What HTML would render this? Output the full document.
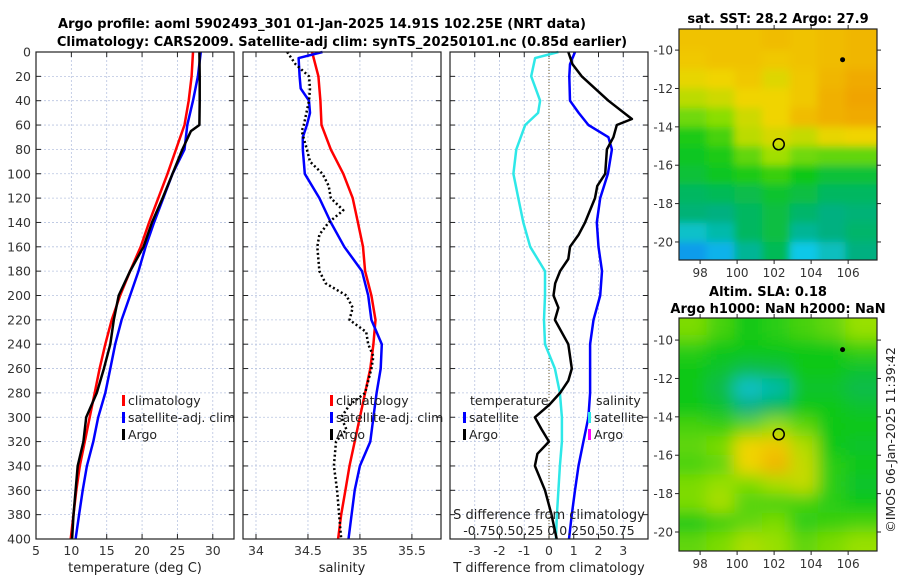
<!DOCTYPE html>
<html><head><meta charset="utf-8"><style>
html,body{margin:0;padding:0;background:#fff;}
svg{display:block;font-family:"DejaVu Sans","Liberation Sans",sans-serif;}
</style></head><body>
<svg id="chart" width="900" height="580" viewBox="0 0 900 580">
<defs>
<filter id="blur1" x="-10%" y="-10%" width="120%" height="120%"><feGaussianBlur stdDeviation="4"/></filter>
<filter id="blur2" x="-10%" y="-10%" width="120%" height="120%"><feGaussianBlur stdDeviation="8"/></filter>
<clipPath id="clipTop"><rect x="679" y="29" width="198" height="231"/></clipPath>
<clipPath id="clipBot"><rect x="679" y="318" width="198" height="233"/></clipPath>
</defs>
<text x="322" y="28" text-anchor="middle" font-size="13" font-weight="bold">Argo profile: aoml 5902493_301 01-Jan-2025 14.91S 102.25E (NRT data)</text>
<text x="342" y="46" text-anchor="middle" font-size="13" font-weight="bold">Climatology: CARS2009. Satellite-adj clim: synTS_20250101.nc (0.85d earlier)</text>
<g id="panels"></g>
<g id="maps"></g>
<text x="778" y="23" text-anchor="middle" font-size="13" font-weight="bold">sat. SST: 28.2 Argo: 27.9</text>
<text x="768" y="296" text-anchor="middle" font-size="13" font-weight="bold">Altim. SLA: 0.18</text>
<text x="778" y="313" text-anchor="middle" font-size="13" font-weight="bold">Argo h1000: NaN h2000: NaN</text>
<text transform="translate(895,440) rotate(-90)" text-anchor="middle" font-size="12.5" fill="#222">©IMOS 06-Jan-2025 11:39:42</text>
</svg>
<script>
// ---- data ----
const depths = [0,20,40,60,80,100,120,140,160,180,200,220,240,260,280,300,320,340,360,380,400];
const tempClim = [27.2,27.0,26.6,26.0,24.8,23.6,22.3,21.0,19.8,18.3,16.9,15.7,14.8,14.0,13.3,12.6,11.9,11.2,10.7,10.3,9.9];
const tempSat = [28.3,27.9,27.2,26.4,26.0,24.3,23.0,21.7,20.5,19.5,18.3,17.1,16.2,15.5,14.8,13.8,13.1,12.2,11.6,11.1,10.6];
const argoDepthsT = [0,20,40,60,65,80,100,120,140,160,180,200,220,240,260,280,300,320,340,360,380,400];
const tempArgo = [28.1,28.15,28.15,28.1,26.9,25.7,24.3,22.9,21.4,20.2,18.3,16.7,16.0,15.5,14.6,13.6,12.1,11.7,10.9,10.6,10.3,10.1];
const salClim = [34.54,34.60,34.62,34.63,34.72,34.84,34.93,34.98,35.03,35.05,35.11,35.15,35.13,35.10,35.05,35.00,34.95,34.90,34.86,34.82,34.79];
const satSDepths = [0,5,20,30,40,50,60,70,80,100,120,140,160,180,200,220,240,260,280,300,320,340,360,380,400];
const salSat = [34.64,34.41,34.42,34.43,34.51,34.52,34.49,34.45,34.45,34.47,34.61,34.72,34.85,35.02,35.08,35.11,35.21,35.20,35.16,35.13,35.10,35.00,34.95,34.92,34.89];
const argoSDepths = [0,10,20,30,40,60,65,80,90,100,110,120,130,140,150,160,180,190,200,210,220,230,240,250,260,280,290,300,310,320,340,360,380,400];
const salArgo = [34.30,34.38,34.51,34.52,34.51,34.46,34.44,34.49,34.52,34.64,34.70,34.72,34.84,34.70,34.61,34.59,34.61,34.67,34.87,34.93,34.90,35.06,35.08,35.13,35.11,35.05,34.90,34.82,34.87,34.77,34.75,34.78,34.80,34.82];
const diffDepthsS = [0,5,20,40,50,60,80,100,120,140,160,180,200,220,240,260,280,300,320,340,360,380,400];
const sDiffSat = [0.095,-0.14,-0.18,-0.09,-0.11,-0.24,-0.33,-0.36,-0.31,-0.26,-0.19,-0.04,-0.04,-0.05,-0.04,0.06,0.11,0.13,0.13,0.11,0.095,0.08,0.07];
const diffDepthsT = [0,10,20,40,50,60,70,80,100,120,140,160,180,200,220,240,260,280,300,320,340,360,380,400];
const tDiffSat = [1.05,0.85,0.82,0.85,1.2,1.59,2.4,2.54,2.38,2.07,1.93,2.0,2.14,2.07,1.80,1.66,1.66,1.66,1.59,1.39,1.19,1.05,0.92,0.81];
const argoDiffDepths = [0,10,20,40,55,60,70,80,100,110,120,140,150,160,170,180,190,200,210,220,240,260,270,280,290,300,310,320,330,340,360,380,400];
const tDiffArgo = [0.78,0.95,1.32,2.4,3.35,2.74,2.6,2.34,2.27,1.95,1.86,1.46,1.2,0.85,0.78,0.45,0.25,0.18,0.38,0.24,0.78,0.92,0.78,0.45,0.0,-0.57,-0.3,0.0,-0.47,-0.57,-0.16,0.1,0.31];
const tempTicks = [5,10,15,20,25,30];
const salTicks = [34,34.5,35,35.5];
const diffTicks = [-3,-2,-1,0,1,2,3];
const depthTicks = [0,20,40,60,80,100,120,140,160,180,200,220,240,260,280,300,320,340,360,380,400];
const lonTicks = [98,100,102,104,106];
const latTicks = [-10,-12,-14,-16,-18,-20];
const sstGrid = [
[5.3,5.3,5.3,5.4,5.3,5.4,5.5],
[5.2,5.3,5.3,5.2,5.3,5.4,5.5],
[4.9,5.0,5.2,4.8,5.2,5.5,5.7],
[4.4,4.6,5.0,5.0,5.2,5.6,5.8],
[3.7,3.9,4.6,5.0,5.4,5.6,5.7],
[3.1,3.4,4.4,4.7,4.5,4.9,5.0],
[2.9,3.1,3.6,4.1,3.7,3.6,3.6],
[2.7,2.9,3.1,3.3,3.0,2.7,2.7],
[2.3,2.4,2.5,2.8,2.6,2.3,2.3],
[2.1,2.0,2.3,2.6,2.2,2.0,2.1],
[1.3,1.6,2.3,2.6,1.8,2.0,2.2],
[0.6,0.8,1.8,2.4,1.0,1.4,2.0]];
const slaGrid = [
[3.8,3.4,3.0,3.2,3.4,3.6,4.0],
[3.2,3,3,3,3,3,3.3],
[3.0,2.8,2.5,2.6,3,3,2.8],
[3.0,2.5,1.3,1.6,2.8,2.8,2.5],
[3.0,2.8,2.0,2.4,3,3,2.8],
[3.4,3.3,3.6,4.0,3.6,3,3],
[3.6,3.8,5.0,5.2,4.3,3,2.8],
[3.4,3.6,5.0,5.5,4.5,3.2,3],
[3.8,4.0,3.8,4.2,4.5,3.2,2.8],
[3.8,4.2,3.5,3.4,3.4,3.2,3],
[3.0,3.3,3.6,3.8,3.2,3.3,3.4],
[3.6,3.8,4.2,4.0,3.6,3.8,4.0]];
const floatLon = 102.25, floatLat = -14.91;

// ---- drawing ----
const NS='http://www.w3.org/2000/svg';
const root=document.getElementById('panels');
const mroot=document.getElementById('maps');
function mk(tag,attrs,parent){const e=document.createElementNS(NS,tag);for(const k in attrs)e.setAttribute(k,attrs[k]);(parent||root).appendChild(e);return e;}
const Y0=52,Y1=539;
function yD(d){return Y0+(d/400)*(Y1-Y0);}
const panels=[
 {x0:36,x1:234,lo:5,hi:33.0,ticks:tempTicks,label:'temperature (deg C)',name:'temperature-panel'},
 {x0:243,x1:441,lo:33.875,hi:35.78,ticks:salTicks,label:'salinity',name:'salinity-panel'},
 {x0:450,x1:648,lo:-4,hi:4,ticks:diffTicks,label:'T difference from climatology',name:'difference-panel'}];
panels.forEach((p,i)=>{
  p.sx=v=>p.x0+(v-p.lo)/(p.hi-p.lo)*(p.x1-p.x0);
  const g=mk('g',{});
  
  
  depthTicks.forEach(d=>{
    const l=mk('line',{x1:p.x0,x2:p.x1,y1:yD(d),y2:yD(d),stroke:'#b8c4e0','stroke-width':0.8,'stroke-dasharray':'2,2'},g);
    
    
    mk('line',{x1:p.x0,x2:p.x0+5,y1:yD(d),y2:yD(d),stroke:'#222'},g);
    mk('line',{x1:p.x1-5,x2:p.x1,y1:yD(d),y2:yD(d),stroke:'#222'},g);
    if(i===0){const t=mk('text',{x:31,y:yD(d)+4.5,'text-anchor':'end','font-size':12.5,fill:'#333'},g);t.textContent=d;
      
      }
  });
  p.ticks.forEach(v=>{
    const x=p.sx(v);
    const l=mk('line',{x1:x,x2:x,y1:Y0,y2:Y1,stroke:'#b8c4e0','stroke-width':0.8,'stroke-dasharray':'2,2'},g);
    
    
    mk('line',{x1:x,x2:x,y1:Y1,y2:Y1-5,stroke:'#222'},g);
    mk('line',{x1:x,x2:x,y1:Y0,y2:Y0+5,stroke:'#222'},g);
    const t=mk('text',{x:x,y:555,'text-anchor':'middle','font-size':12.5,fill:'#333'},g);t.textContent=v;
    
    
  });
  const xl=mk('text',{x:(p.x0+p.x1)/2,y:572,'text-anchor':'middle','font-size':13,fill:'#222'},g);xl.textContent=p.label;
  
  
  p.g=g;
});
function line(p,xs,ds,color,w,dash,name){
  const d=xs.map((v,k)=>(k?'L':'M')+p.sx(v).toFixed(1)+','+yD(ds[k]).toFixed(1)).join('');
  const a={d:d,fill:'none',stroke:color,'stroke-width':w,'stroke-linejoin':'round'};
  if(dash)a['stroke-dasharray']=dash;
  const e=mk('path',a,p.g);
  
  
}
const P1=panels[0],P2=panels[1],P3=panels[2];
const zl=mk('line',{x1:P3.sx(0),x2:P3.sx(0),y1:Y0,y2:Y1,stroke:'#6b5a2a','stroke-width':1,'stroke-dasharray':'1,2'},P3.g);


line(P1,tempClim,depths,'#f00',2.5,null,'temp-climatology-line');
line(P1,tempSat,depths,'#00f',2.5,null,'temp-satellite-line');
line(P1,tempArgo,argoDepthsT,'#000',2.5,null,'temp-argo-line');
line(P2,salClim,depths,'#f00',2.5,null,'sal-climatology-line');
line(P2,salSat,satSDepths,'#00f',2.5,null,'sal-satellite-line');
line(P2,salArgo,argoSDepths,'#000',2.5,'2,2.5','sal-argo-line');
line(P3,sDiffSat.map(v=>v*4),diffDepthsS,'#2ee8e8',2.5,null,'s-diff-satellite-line');
line(P3,tDiffSat,diffDepthsT,'#00f',2.5,null,'t-diff-satellite-line');
line(P3,tDiffArgo,argoDiffDepths,'#000',2.5,null,'t-diff-argo-line');
panels.forEach(p=>{const r=mk('rect',{x:p.x0,y:Y0,width:p.x1-p.x0,height:Y1-Y0,fill:'none',stroke:'#222','stroke-width':1.2},p.g);
 });
function leg(g,x,y,color,label,name){
  mk('rect',{x:x,y:y-10,width:3,height:11,fill:color},g);
  const t=mk('text',{x:x+6,y:y,'font-size':12.5,fill:'#222'},g);t.textContent=label;
  
  
}
[[P1,122],[P2,330]].forEach(([p,x])=>{
  leg(p.g,x,405,'#f00','climatology','legend-climatology');
  leg(p.g,x,422,'#00f','satellite-adj. clim','legend-satellite-adj');
  leg(p.g,x,439,'#000','Argo','legend-argo');
});
(function(){const g=P3.g;
 let t=mk('text',{x:470,y:405,'font-size':12.5,fill:'#222'},g);t.textContent='temperature';
 
 t=mk('text',{x:596,y:405,'font-size':12.5,fill:'#222'},g);t.textContent='salinity';
 
 leg(g,463,422,'#00f','satellite','legend-t-satellite');
 leg(g,463,439,'#000','Argo','legend-t-argo');
 leg(g,588,422,'#2ee8e8','satellite','legend-s-satellite');
 leg(g,588,439,'#f0f','Argo','legend-s-argo');
 t=mk('text',{x:549,y:519,'text-anchor':'middle','font-size':13,fill:'#222'},g);t.textContent='S difference from climatology';
 
 t=mk('text',{x:549,y:535,'text-anchor':'middle','font-size':12.5,fill:'#222'},g);t.textContent='-0.750.50.25 0 0.250.50.75';
 
})();
// ---- maps ----
const cmap=['#0a5af0','#10c8e8','#00b080','#10c818','#98e000','#f0d400','#f09800'];
function col(v){v=Math.max(0,Math.min(6,v));const i=Math.min(5,Math.floor(v)),f=v-i;
 const a=cmap[i],b=cmap[i+1];const c=[1,3,5].map(k=>Math.round(parseInt(a.substr(k,2),16)*(1-f)+parseInt(b.substr(k,2),16)*f));
 return 'rgb('+c.join(',')+')';}
const LON0=96.86,LON1=107.56;
function drawMap(grid,top,bot,latTop,latBot,clip,filt,name){
  const sx=lon=>679+(lon-LON0)/(LON1-LON0)*198;
  const sy=lat=>top+(latTop-lat)/(latTop-latBot)*(bot-top);
  const g=mk('g',{'clip-path':'url(#'+clip+')'},mroot);
  
  
  mk('rect',{x:679,y:top,width:198,height:bot-top,fill:col(grid[6][3])},g);
  const inner=mk('g',{filter:'url(#'+filt+')'},g);
  grid.forEach((row,r)=>row.forEach((v,c)=>{
    const lon=97.6+c*1.5,lat=-9.5-r;
    let x0=sx(lon-0.75),x1=sx(lon+0.75),y0=sy(lat+0.5),y1=sy(lat-0.5);
    if(c===0)x0-=20;if(c===row.length-1)x1+=20;if(r===0)y0-=20;if(r===grid.length-1)y1+=20;
    const e=mk('rect',{x:x0,y:y0,width:x1-x0+0.5,height:y1-y0+0.5,fill:col(v)},inner);
    
    
  }));
  mk('rect',{x:679,y:top,width:198,height:bot-top,fill:'none',stroke:'#222','stroke-width':1.2},mroot);
  lonTicks.forEach(lon=>{const x=sx(lon);
    mk('line',{x1:x,x2:x,y1:bot,y2:bot+4,stroke:'#222'},mroot);
    mk('line',{x1:x,x2:x,y1:top,y2:top-4,stroke:'#222'},mroot);
    const t=mk('text',{x:x,y:bot+17,'text-anchor':'middle','font-size':12,fill:'#333'},mroot);t.textContent=lon;
    });
  latTicks.forEach(lat=>{const y=sy(lat);
    mk('line',{x1:877,x2:881,y1:y,y2:y,stroke:'#222'},mroot);
    mk('line',{x1:675,x2:679,y1:y,y2:y,stroke:'#222'},mroot);
    const t=mk('text',{x:673,y:y+4.5,'text-anchor':'end','font-size':12,fill:'#333'},mroot);t.textContent=lat;
    });
  const c=mk('circle',{cx:sx(floatLon),cy:sy(floatLat),r:5.5,fill:'none',stroke:'#000','stroke-width':1.5},mroot);
  
  const s=mk('circle',{cx:sx(105.7),cy:sy(-10.5),r:2.5,fill:'#000'},mroot);
  
}
drawMap(sstGrid,29,260,-8.9,-20.94,'clipTop','blur1','sst-map');
drawMap(slaGrid,318,551,-8.85,-20.99,'clipBot','blur2','sla-map');
</script>
</body></html>
